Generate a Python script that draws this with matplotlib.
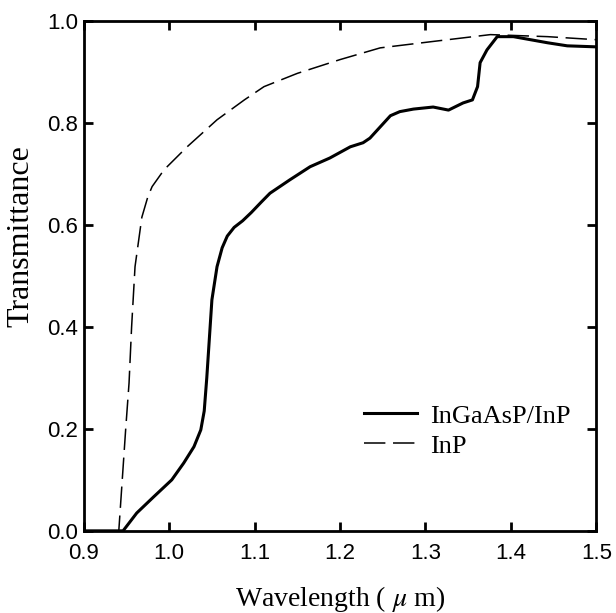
import matplotlib
matplotlib.use('Agg')
import matplotlib.pyplot as plt

# InGaAsP/InP sample (solid)
wl_q = [0.90, 0.946, 0.962, 0.982, 1.003, 1.017, 1.029, 1.037, 1.041, 1.044,
        1.050, 1.056, 1.062, 1.068, 1.076, 1.086, 1.096, 1.108, 1.118, 1.141, 1.165,
        1.188, 1.212, 1.227, 1.235, 1.247, 1.259, 1.270, 1.286, 1.309, 1.327, 1.344,
        1.355, 1.361, 1.364, 1.372, 1.384, 1.403, 1.443, 1.466, 1.50]
t_q = [0.0, 0.0, 0.035, 0.067, 0.100, 0.133, 0.165, 0.198, 0.235, 0.300,
       0.453, 0.518, 0.555, 0.578, 0.595, 0.608, 0.624, 0.645, 0.662, 0.688, 0.714,
       0.731, 0.753, 0.761, 0.770, 0.792, 0.814, 0.822, 0.827, 0.831, 0.825, 0.839,
       0.845, 0.871, 0.918, 0.943, 0.969, 0.969, 0.957, 0.951, 0.949]

# InP substrate (dashed)
wl_inp = [0.90, 0.941, 0.949, 0.953, 0.956, 0.960, 0.968, 0.975, 0.980, 0.994,
          1.021, 1.056, 1.088, 1.111, 1.150, 1.200, 1.247, 1.306, 1.376, 1.443, 1.50]
t_inp = [0.0, 0.0, 0.198, 0.290, 0.400, 0.518, 0.615, 0.655, 0.675, 0.708,
         0.753, 0.806, 0.845, 0.871, 0.897, 0.924, 0.947, 0.959, 0.973, 0.969, 0.963]

plt.rcParams['mathtext.fontset'] = 'stix'

fig = plt.figure(figsize=(6.16, 6.13), dpi=100)
ax = fig.add_axes([0.136, 0.134, 0.832, 0.832])

ax.plot(wl_q, t_q, color='black', lw=2.2, label='InGaAsP/InP')
ax.plot(wl_inp, t_inp, color='black', lw=1.1, dashes=(14, 5), label='InP')

ax.set_xlim(0.9, 1.5)
ax.set_ylim(0, 1.0)
ax.set_xticks([0.9, 1.0, 1.1, 1.2, 1.3, 1.4, 1.5])
ax.set_yticks([0.0, 0.2, 0.4, 0.6, 0.8, 1.0])
ax.set_xticklabels(['0.9', '1.0', '1.1', '1.2', '1.3', '1.4', '1.5'])
ax.set_yticklabels(['0.0', '0.2', '0.4', '0.6', '0.8', '1.0'])

for s in ax.spines.values():
    s.set_linewidth(2.0)
ax.tick_params(direction='in', length=6.5, width=2.0, top=True, right=True,
               labelsize=16)
ax.tick_params(axis='x', pad=9)
ax.tick_params(axis='y', pad=4)
for lab in ax.get_xticklabels() + ax.get_yticklabels():
    lab.set_family('Liberation Sans')

ax.set_xlabel('Wavelength ( $\\mu$ m)', fontsize=20, family='Liberation Serif', labelpad=14)
ax.set_ylabel('Transmittance', fontsize=23, family='Liberation Serif')
ax.yaxis.set_label_coords(-0.095, 0.578)

leg = ax.legend(loc='upper left', bbox_to_anchor=(0.5, 0.295), frameon=False,
                prop={'family': 'Liberation Serif', 'size': 19},
                handlelength=2.0, handletextpad=0.5, labelspacing=0.25)

fig.savefig('out.png', dpi=100)
